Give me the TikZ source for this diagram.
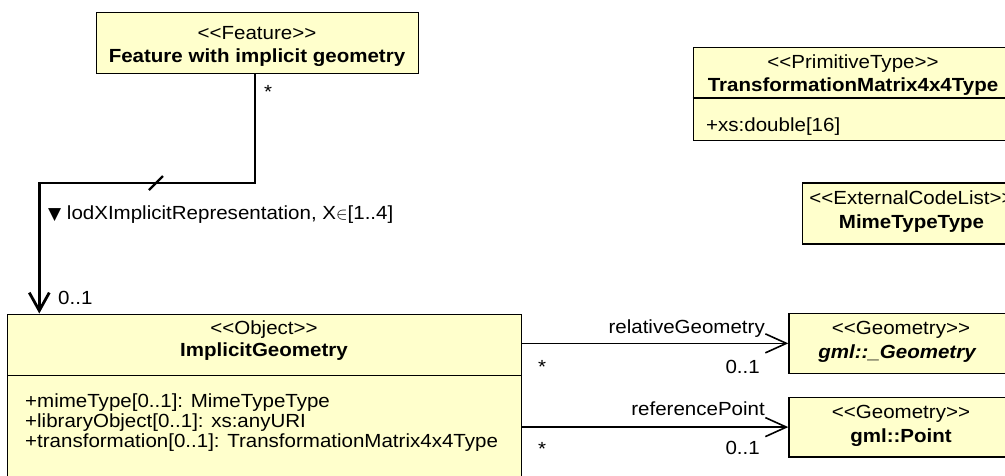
\documentclass[tikz,border=0pt]{standalone}
\usepackage{fontspec}
\setmainfont{Liberation Sans}[FakeStretch=1.08]
\newfontfamily\symfont{DejaVu Sans}
\usetikzlibrary{arrows.meta, positioning}
\definecolor{umlfill}{RGB}{255,255,204}
\newcommand{\stereo}[1]{<{}<#1>{}>}

\tikzset{
  umlclass/.style={draw=black, fill=umlfill, line width=1.3pt, inner sep=0pt, anchor=north west},
  umltext/.style={font=\fontsize{19}{22}\selectfont, inner sep=0pt},
  umlname/.style={umltext, anchor=base, font=\fontsize{19}{22}\selectfont\bfseries},
  assoc/.style={draw=black, line width=1.6pt, -{Straight Barb[length=21pt, width=19pt, line width=1.6pt]}},
  heavyassoc/.style={draw=black, line width=2.8pt, -{Straight Barb[length=18pt, width=20pt, line width=2.8pt]}}
}

\begin{document}
\begin{tikzpicture}[x=1pt, y=-1pt]
  \useasboundingbox (0,0) rectangle (1005,475);
  \clip (0,0) rectangle (1005,475);

  % Feature
  \node[umlclass, minimum width=322pt, minimum height=61pt] (feat) at (96,12) {};
  \node[umltext, anchor=base] (feat-st) at (257,39) {\stereo{Feature}};
  \node[umlname] (feat-nm) at (257,62.5) {Feature with implicit geometry};

  % ImplicitGeometry
  \node[umlclass, minimum width=514pt, minimum height=200pt] (impl) at (7,313.5) {};
  \node[umltext, anchor=base] (impl-st) at (264,334) {\stereo{Object}};
  \node[umlname] (impl-nm) at (264,356.5) {ImplicitGeometry};
  \draw[line width=1.3pt] ([yshift=-62pt]impl.north west) -- ([yshift=-62pt]impl.north east);
  \node[umltext, anchor=base west] (impl-a1) at (25,407) {+mimeType[0..1]: MimeTypeType};
  \node[umltext, anchor=base west] (impl-a2) at (25,427) {+libraryObject[0..1]: xs:anyURI};
  \node[umltext, anchor=base west] (impl-a3) at (25,447) {+transformation[0..1]: TransformationMatrix4x4Type};

  % TransformationMatrix4x4Type
  \node[umlclass, minimum width=330pt, minimum height=93pt] (trans) at (692.5,47) {};
  \node[umltext, anchor=base] (trans-st) at (853,68.5) {\stereo{PrimitiveType}};
  \node[umlname] (trans-nm) at (853,91.5) {TransformationMatrix4x4Type};
  \draw[line width=1.3pt] ([yshift=-51pt]trans.north west) -- ([yshift=-51pt]trans.north east);
  \node[umltext, anchor=base west] (trans-a1) at (706,131) {+xs:double[16]};

  % MimeTypeType
  \node[umlclass, minimum width=220pt, minimum height=61pt] (mime) at (802,182.3) {};
  \node[umltext, anchor=base] (mime-st) at (911.5,204) {\stereo{ExternalCodeList}};
  \node[umlname] (mime-nm) at (911.5,228) {MimeTypeType};

  % gml::_Geometry
  \node[umlclass, minimum width=226pt, minimum height=60pt] (geom) at (788.3,312.7) {};
  \node[umltext, anchor=base] (geom-st) at (901,334.5) {\stereo{Geometry}};
  \node[umlname, font=\fontsize{19}{22}\selectfont\bfseries\itshape] (geom-nm) at (897,358.5) {gml::\_Geometry};

  % gml::Point
  \node[umlclass, minimum width=226pt, minimum height=59.5pt] (point) at (788.3,396.7) {};
  \node[umltext, anchor=base] (point-st) at (901,418.5) {\stereo{Geometry}};
  \node[umlname] (point-nm) at (901,442.5) {gml::Point};

  % lodX association
  \coordinate (bend) at (255,183);
  \coordinate (slash) at (156,183);
  \draw[heavyassoc] (feat.south -| bend) -- (bend) -| ([xshift=32.3pt]impl.north west);
  \draw[line width=2.2pt] ([shift={(-7,7)}]slash) -- ([shift={(7,-7)}]slash);
  \node[umltext, anchor=base west] (feat-mult) at (264,98) {*};
  \node[umltext, anchor=base west] (lod-lbl) at (48,219)
    {{\symfont\fontsize{17}{17}\selectfont ▼} lodXImplicitRepresentation, X{\fontsize{16}{16}\selectfont$\in$}[1..4]};
  \node[umltext, anchor=base west] (impl-mult) at (58,304) {0..1};

  % relativeGeometry
  \draw[assoc] (impl.east |- geom.west) -- (geom.west);
  \node[umltext, anchor=base east] (rel-lbl) at (765,333) {relativeGeometry};
  \node[umltext, anchor=base west] (rel-src) at (538,373) {*};
  \node[umltext, anchor=base east] (rel-dst) at (760,373) {0..1};

  % referencePoint
  \draw[assoc] (impl.east |- point.west) -- (point.west);
  \node[umltext, anchor=base east] (ref-lbl) at (765,415.5) {referencePoint};
  \node[umltext, anchor=base west] (ref-src) at (538,455) {*};
  \node[umltext, anchor=base east] (ref-dst) at (760,454) {0..1};
\end{tikzpicture}
\end{document}
